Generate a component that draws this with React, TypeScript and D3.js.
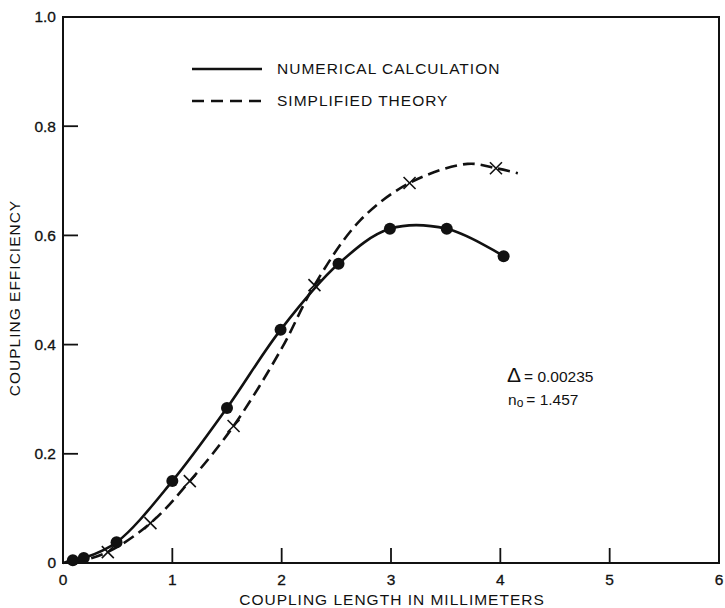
import React from "react";
import * as d3 from "d3";

const xTicks = [0, 1, 2, 3, 4, 5, 6];
const yTicks = [0, 0.2, 0.4, 0.6, 0.8, 1.0];
const yTickLabels = ["0", "0.2", "0.4", "0.6", "0.8", "1.0"];

// Numerical calculation: marker points (filled circles)
const numX = [0.09, 0.19, 0.49, 1.0, 1.5, 1.99, 2.52, 2.99, 3.51, 4.03];
const numY = [0.005, 0.009, 0.038, 0.15, 0.284, 0.427, 0.548, 0.612, 0.612, 0.562];
// Numerical calculation curve (solid)
const numCurveX = [0.0, 0.09, 0.19, 0.49, 1.0, 1.5, 1.99, 2.52, 2.99, 3.51, 4.03];
const numCurveY = [0.0, 0.005, 0.009, 0.038, 0.15, 0.284, 0.427, 0.548, 0.612, 0.612, 0.562];

// Simplified theory: marker points (crosses)
const thX = [0.41, 0.8, 1.16, 1.56, 2.3, 3.17, 3.96];
const thY = [0.02, 0.073, 0.15, 0.251, 0.509, 0.696, 0.723];
// Simplified theory curve (dashed)
const thCurveX = [0.1, 0.41, 0.8, 1.16, 1.56, 2.0, 2.3, 2.72, 3.17, 3.7, 3.96, 4.16];
const thCurveY = [0.0, 0.02, 0.073, 0.15, 0.251, 0.393, 0.509, 0.628, 0.696, 0.731, 0.723, 0.714];

const legendLabels = ["NUMERICAL CALCULATION", "SIMPLIFIED THEORY"];

const W = 725;
const H = 608;
const font = "'Liberation Sans', Arial, Helvetica, sans-serif";

export default function App() {
  const x = d3.scaleLinear().domain([0, 6]).range([63, 719]);
  const y = d3.scaleLinear().domain([0, 1]).range([563, 17]);

  const line = d3
    .line<[number, number]>()
    .x((d) => x(d[0]))
    .y((d) => y(d[1]))
    .curve(d3.curveCatmullRom.alpha(0.5));

  const numPts: [number, number][] = numCurveX.map((v, i) => [v, numCurveY[i]]);
  const thPts: [number, number][] = thCurveX.map((v, i) => [v, thCurveY[i]]);

  const cs = 6;
  const fs = 15.5;

  return (
    <svg
      width={W}
      height={H}
      style={{ position: "absolute", left: 0, top: 0, background: "#fff" }}
      fontFamily={font}
    >
      <rect x={0} y={0} width={W} height={H} fill="#fff" />
      {/* frame */}
      <rect
        x={x(0)}
        y={y(1)}
        width={x(6) - x(0)}
        height={y(0) - y(1)}
        fill="none"
        stroke="#111"
        strokeWidth={2}
      />
      {/* y ticks */}
      {yTicks.map((t, i) => (
        <g key={"y" + i}>
          {t > 0 && t < 1 && (
            <line x1={x(0)} x2={x(0) + 15} y1={y(t)} y2={y(t)} stroke="#111" strokeWidth={1.8} />
          )}
          <text
            x={56}
            y={y(t)}
            dy="0.35em"
            textAnchor="end"
            fontSize={fs}
            fill="#111"
            stroke="#111"
            strokeWidth={0.3}
          >
            {yTickLabels[i]}
          </text>
        </g>
      ))}
      {/* x ticks */}
      {xTicks.map((t, i) => (
        <g key={"x" + i}>
          {t > 0 && t < 6 && (
            <line x1={x(t)} x2={x(t)} y1={y(0)} y2={y(0) - 15} stroke="#111" strokeWidth={1.8} />
          )}
          <text
            x={x(t)}
            y={585}
            textAnchor="middle"
            fontSize={fs}
            fill="#111"
            stroke="#111"
            strokeWidth={0.3}
          >
            {t}
          </text>
        </g>
      ))}
      {/* axis titles */}
      <text
        x={392}
        y={605}
        textAnchor="middle"
        fontSize={fs}
        fill="#111"
        letterSpacing={1}
      >
        COUPLING LENGTH IN MILLIMETERS
      </text>
      <text
        transform={`translate(20,298) rotate(-90)`}
        textAnchor="middle"
        fontSize={fs}
        fill="#111"
        letterSpacing={1}
      >
        COUPLING EFFICIENCY
      </text>

      {/* curves */}
      <path d={line(numPts) || ""} fill="none" stroke="#111" strokeWidth={2.6} />
      <path
        d={line(thPts) || ""}
        fill="none"
        stroke="#111"
        strokeWidth={2.6}
        strokeDasharray="12 6"
      />

      {/* markers */}
      {numX.map((v, i) => (
        <circle key={"c" + i} cx={x(v)} cy={y(numY[i])} r={6} fill="#111" />
      ))}
      {thX.map((v, i) => (
        <g key={"t" + i} stroke="#111" strokeWidth={1.6}>
          <line x1={x(v) - cs} y1={y(thY[i]) - cs} x2={x(v) + cs} y2={y(thY[i]) + cs} />
          <line x1={x(v) - cs} y1={y(thY[i]) + cs} x2={x(v) + cs} y2={y(thY[i]) - cs} />
        </g>
      ))}

      {/* legend */}
      <line x1={192} x2={262} y1={69} y2={69} stroke="#111" strokeWidth={2.6} />
      <text x={277} y={69} dy="0.35em" fontSize={fs} fill="#111" letterSpacing={1}>
        {legendLabels[0]}
      </text>
      <line
        x1={192}
        x2={262}
        y1={101}
        y2={101}
        stroke="#111"
        strokeWidth={2.6}
        strokeDasharray="12 7"
      />
      <text x={277} y={101} dy="0.35em" fontSize={fs} fill="#111" letterSpacing={1}>
        {legendLabels[1]}
      </text>

      {/* annotation */}
      <text x={507} y={382} fill="#111">
        <tspan fontSize={21}>Δ</tspan>
        <tspan fontSize={fs} dx={3}>= 0.00235</tspan>
      </text>
      <text x={508} y={405} fill="#111">
        <tspan fontSize={fs}>n</tspan>
        <tspan fontSize={12} dy={2}>o</tspan>
        <tspan fontSize={fs} dy={-2} dx={3}>= 1.457</tspan>
      </text>
    </svg>
  );
}
